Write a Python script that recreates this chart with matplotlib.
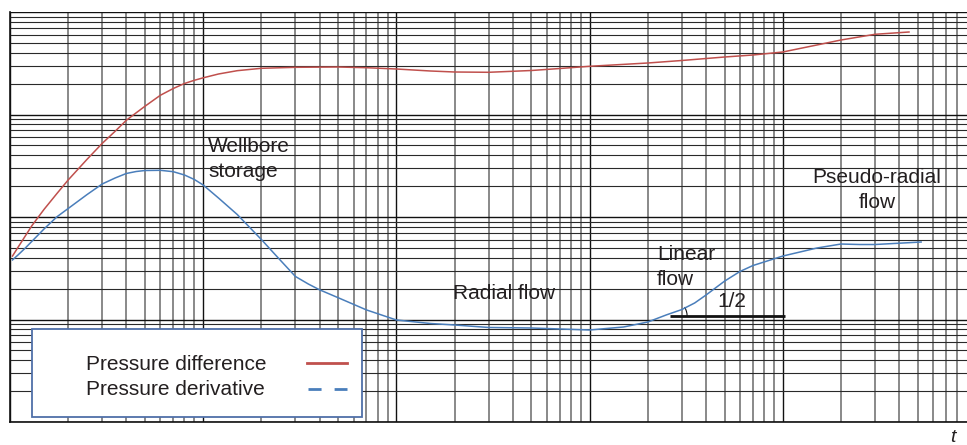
import matplotlib.pyplot as plt
import numpy as np
from matplotlib.ticker import LogLocator, NullFormatter
from matplotlib.patches import Rectangle, Arc
from matplotlib.lines import Line2D

plt.rcParams['font.family'] = ['Liberation Sans', 'DejaVu Sans']

# Pressure difference curve (log-log)
t_dp = [1.03, 1.1, 1.3, 1.5, 1.75, 2, 2.5, 3, 3.5, 4, 4.5, 5, 6, 7, 8, 9, 10,
        12, 15, 20, 30, 50, 70, 100, 150, 200, 300, 500, 700, 1000, 2000, 3000,
        5000, 7000, 10000, 15000, 20000, 30000, 45000]
dp = [41.6, 50.6, 82.6, 118.6, 169.6, 229.6, 363.9, 522.4, 685.8, 877.9, 1039,
      1205, 1540, 1793, 2007, 2157, 2280, 2484, 2676, 2823, 2887, 2906, 2861,
      2779, 2657, 2598, 2581, 2687, 2810, 2953, 3180, 3364, 3639, 3806, 4072,
      4764, 5331, 6060, 6381]

# Pressure derivative curve
t_der = [1.03, 1.1, 1.2, 1.35, 1.5, 1.75, 2, 2.5, 3, 3.5, 4, 4.5, 5, 6, 7, 8, 9,
         10, 12, 15, 20, 25, 30, 35, 40, 50, 70, 100, 150, 200, 300, 500, 1000,
         1500, 2000, 2500, 3000, 3500, 4000, 5000, 6000, 7000, 10000, 15000,
         20000, 25000, 30000, 52000]
der = [38.1, 42.6, 49.8, 62.4, 76.4, 100.5, 121.0, 165.1, 209.9, 240.2, 265.8,
       277.9, 284.2, 285.5, 276.7, 256.9, 232.2, 205.2, 153.2, 105.8, 60.3, 38.1,
       26.3, 22.2, 19.5, 16.3, 12.4, 9.89, 9.14, 8.84, 8.36, 8.26, 7.90, 8.45,
       9.45, 11.1, 12.5, 14.5, 17.3, 23.7, 29.4, 33.6, 41.6, 49.8, 54.5, 53.9,
       53.9, 57.0]

# Half-slope reference line
half_t = [2610, 10270]
half_p = [10.8, 10.8]

red = '#c0504d'
blue = '#4a7ebb'
txt = '#231f20'

fig = plt.figure(figsize=(9.67, 4.45), dpi=100)
ax = fig.add_axes([10 / 967, 23 / 445, 957 / 967, 410 / 445])
ax.set_xscale('log')
ax.set_yscale('log')
ax.set_xlim(1, 10 ** (957 / 193.2))
ax.set_ylim(1, 1e4)

for axis in (ax.xaxis, ax.yaxis):
    axis.set_major_locator(LogLocator(base=10, numticks=20))
    axis.set_minor_locator(LogLocator(base=10, subs=np.arange(2, 10), numticks=200))
    axis.set_minor_formatter(NullFormatter())
ax.tick_params(which='both', length=0, labelbottom=False, labelleft=False)

# log grid paper
ax.grid(which='major', color='#111111', lw=1.0)
ax.grid(which='minor', axis='x', color='#6a6a6a', lw=1.1)
ax.grid(which='minor', axis='y', color='#2a2a2a', lw=0.8)
ax.set_axisbelow(True)

for s in ('top', 'right'):
    ax.spines[s].set_visible(False)
for s in ('left', 'bottom'):
    ax.spines[s].set_color('#111111')
    ax.spines[s].set_linewidth(1.2)

ax.plot(t_dp, dp, color=red, lw=1.1, solid_joinstyle='round')
ax.plot(t_der, der, color=blue, lw=1.1, solid_joinstyle='round')
ax.plot(half_t, half_p, color='#111111', lw=2.0, solid_capstyle='butt')

# small angle arc at the start of the half-slope line
fig.canvas.draw()
cx, cy = ax.transData.transform((half_t[0], half_p[0]))
ax.add_patch(Arc((cx, cy), 34, 34, theta1=0, theta2=32, transform=None,
                 color='#111111', lw=0.8))

# flow regime labels
fs = 15
ax.text(10.6, 431, 'Wellbore', fontsize=fs, color=txt, va='baseline')
ax.text(10.6, 246, 'storage', fontsize=fs, color=txt, va='baseline')
ax.text(196, 15.85, 'Radial flow', fontsize=fs, color=txt, va='baseline')
ax.text(2233, 38.1, 'Linear', fontsize=fs, color=txt, va='baseline')
ax.text(2233, 21.7, 'flow', fontsize=fs, color=txt, va='baseline')
ax.text(4564, 13.2, '1/2', fontsize=fs, color=txt, va='baseline')
ax.text(30730, 215, 'Pseudo-radial', fontsize=fs, color=txt, va='baseline', ha='center')
ax.text(30730, 122, 'flow', fontsize=fs, color=txt, va='baseline', ha='center')

fig.text(950 / 967, 3 / 445, 't', fontsize=14, color=txt, style='italic')

# legend box with labels on the left, line samples on the right
fig.patches.append(Rectangle((32 / 967, 28 / 445), 330 / 967, 88 / 445,
                             transform=fig.transFigure, facecolor='white',
                             edgecolor='#4f6fa8', lw=1.3, zorder=5))
fig.text(86 / 967, 75 / 445, 'Pressure difference', fontsize=fs, color=txt,
         va='baseline', zorder=6)
fig.text(86 / 967, 50 / 445, 'Pressure derivative', fontsize=fs, color=txt,
         va='baseline', zorder=6)
fig.lines.append(Line2D([307 / 967, 347 / 967], [82 / 445, 82 / 445],
                        transform=fig.transFigure, color=red, lw=2.0, zorder=6))
fig.lines.append(Line2D([308 / 967, 347 / 967], [56 / 445, 56 / 445],
                        transform=fig.transFigure, color=blue, lw=2.0,
                        dashes=(4.7, 4.7), zorder=6))

fig.savefig('out.png', dpi=100)
